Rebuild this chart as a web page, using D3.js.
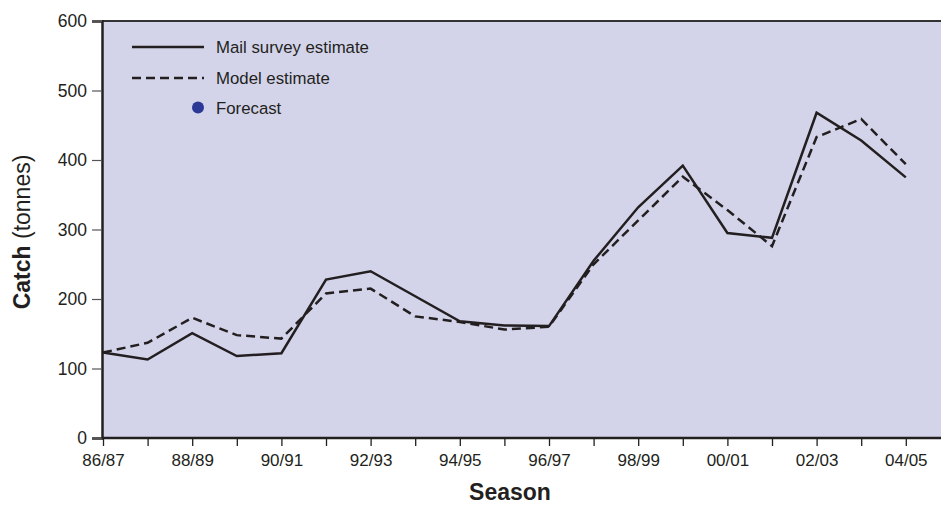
<!DOCTYPE html>
<html>
<head>
<meta charset="utf-8">
<script src="https://cdn.jsdelivr.net/npm/d3@7"></script>
<style>
  html, body { margin: 0; padding: 0; background: #fff; }
  svg { display: block; font-family: "Liberation Sans", Arial, sans-serif; }
</style>
</head>
<body>
<svg id="chart" width="941" height="506"></svg>
<script>
// Fishing seasons, 1986/87 to 2004/05
const seasons = ["86/87","87/88","88/89","89/90","90/91","91/92","92/93","93/94","94/95",
                 "95/96","96/97","97/98","98/99","99/00","00/01","01/02","02/03","03/04","04/05"];
// Catch in tonnes
const mailSurvey = [123,113,151,118,122,228,240,204,168,162,161,255,332,392,295,288,468,428,375];
const modelEstimate = [123,137,173,148,143,208,215,175,167,156,160,250,313,376,328,276,433,459,394];
const yTicks = [0,100,200,300,400,500,600];

const svg = d3.select("#chart");
const plot = { left: 102, top: 21, right: 941, bottom: 438 };

const x = d3.scalePoint().domain(seasons).range([103, 905.8]);
const y = d3.scaleLinear().domain([0, 600]).range([plot.bottom, plot.top]);

// Plot background
svg.append("rect")
  .attr("x", plot.left).attr("y", plot.top)
  .attr("width", plot.right - plot.left).attr("height", plot.bottom - plot.top)
  .attr("fill", "#d3d4e9");

// Top border
svg.append("line")
  .attr("x1", plot.left).attr("x2", plot.right)
  .attr("y1", plot.top).attr("y2", plot.top)
  .attr("stroke", "#333").attr("stroke-width", 2);

// Y axis
const yAxis = svg.append("g")
  .attr("transform", `translate(${plot.left},0)`)
  .call(d3.axisLeft(y).tickValues(yTicks).tickSize(10).tickPadding(5));
yAxis.select(".domain").attr("stroke", "#231f20").attr("stroke-width", 2.5);
yAxis.selectAll(".tick line").attr("stroke", "#555").attr("stroke-width", 1.2);
yAxis.selectAll(".tick text")
  .attr("font-size", 17.5).attr("fill", "#231f20")
  .attr("font-family", "Liberation Sans, Arial, sans-serif");

// X axis
const xAxis = svg.append("g")
  .attr("transform", `translate(0,${plot.bottom})`)
  .call(d3.axisBottom(x).tickSize(8).tickPadding(8)
    .tickFormat((d, i) => i % 2 === 0 ? d : ""));
xAxis.select(".domain").remove();
svg.append("line")
  .attr("x1", plot.left).attr("x2", plot.right)
  .attr("y1", plot.bottom).attr("y2", plot.bottom)
  .attr("stroke", "#231f20").attr("stroke-width", 2.5);
xAxis.selectAll(".tick line").attr("stroke", "#231f20").attr("stroke-width", 1.3);
xAxis.selectAll(".tick text")
  .attr("font-size", 17).attr("fill", "#231f20")
  .attr("font-family", "Liberation Sans, Arial, sans-serif");

// Series lines
const line = d3.line().x((d, i) => x(seasons[i])).y(d => y(d));

svg.append("path").datum(modelEstimate)
  .attr("d", line).attr("fill", "none")
  .attr("stroke", "#231f20").attr("stroke-width", 2.5)
  .attr("stroke-dasharray", "9,5");

svg.append("path").datum(mailSurvey)
  .attr("d", line).attr("fill", "none")
  .attr("stroke", "#231f20").attr("stroke-width", 2.5)
  .attr("stroke-linejoin", "miter");

// Legend
const legend = svg.append("g").attr("font-size", 16.8).attr("fill", "#231f20");
legend.append("line").attr("x1", 132).attr("x2", 204).attr("y1", 47).attr("y2", 47)
  .attr("stroke", "#231f20").attr("stroke-width", 2.5);
legend.append("text").attr("x", 216).attr("y", 53).text("Mail survey estimate");
legend.append("line").attr("x1", 132).attr("x2", 204).attr("y1", 78).attr("y2", 78)
  .attr("stroke", "#231f20").attr("stroke-width", 2.5).attr("stroke-dasharray", "9,5");
legend.append("text").attr("x", 216).attr("y", 84).text("Model estimate");
legend.append("circle").attr("cx", 198).attr("cy", 107.5).attr("r", 6).attr("fill", "#2b3896");
legend.append("text").attr("x", 216).attr("y", 113.5).text("Forecast");

// Axis titles
const yTitle = svg.append("text")
  .attr("transform", "translate(30,232) rotate(-90)")
  .attr("text-anchor", "middle").attr("font-size", 23).attr("fill", "#231f20");
yTitle.append("tspan").attr("font-weight", "bold").text("Catch");
yTitle.append("tspan").text(" (tonnes)");

svg.append("text")
  .attr("x", 510).attr("y", 500)
  .attr("text-anchor", "middle").attr("font-size", 23).attr("font-weight", "bold")
  .attr("fill", "#231f20").text("Season");
</script>
</body>
</html>
